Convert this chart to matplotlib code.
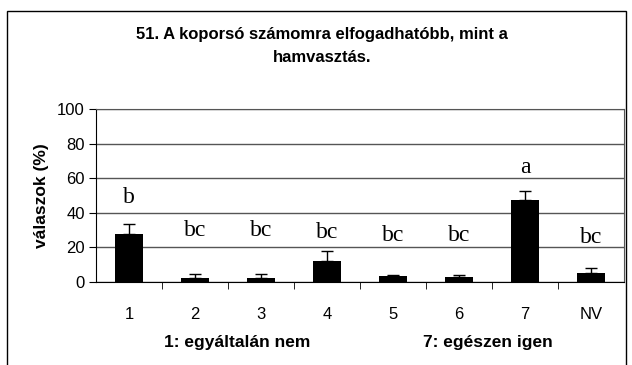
import matplotlib.pyplot as plt
from matplotlib.patches import Rectangle
import numpy as np

categories = ['1', '2', '3', '4', '5', '6', '7', 'NV']
values = [27.5, 2.5, 2.5, 12.3, 3.3, 2.8, 47.4, 5.0]
errors = [6.0, 2.0, 2.0, 5.7, 0.8, 1.4, 5.4, 3.2]
letters = ['b', 'bc', 'bc', 'bc', 'bc', 'bc', 'a', 'bc']
letter_y = [49, 30, 30, 28.5, 27, 27, 66, 26]

fig = plt.figure(figsize=(6.32, 3.65), dpi=100)
ax = fig.add_axes([96 / 632, 1 - 282 / 365, (624 - 96) / 632, (282 - 109) / 365])

x = np.arange(len(categories))
ax.bar(x, values, width=0.42, color='black', zorder=3)
ax.errorbar(x, values, yerr=[np.zeros(len(errors)), errors], fmt='none',
            ecolor='black', elinewidth=1, capsize=4, capthick=1, zorder=4)
for xi, t, ty in zip(x, letters, letter_y):
    ax.text(xi, ty, t, ha='center', va='center', fontsize=17,
            family='Liberation Serif')

ax.set_xlim(-0.5, len(categories) - 0.5)
ax.set_ylim(0, 100)
ax.set_yticks([0, 20, 40, 60, 80, 100])
ax.yaxis.grid(True, color='#555555', linewidth=1, zorder=0)
ax.set_xticks(x)
ax.set_xticklabels(categories, family='Liberation Sans', fontsize=12)
ax.set_xticks(np.arange(0.5, len(categories) - 0.5), minor=True)
ax.tick_params(axis='x', which='major', length=0, pad=18)
ax.tick_params(axis='x', which='minor', length=5, direction='out')
ax.tick_params(axis='y', length=5, direction='out', pad=3)
for lbl in ax.get_yticklabels():
    lbl.set_family('Liberation Sans')
    lbl.set_fontsize(12)
ax.spines['top'].set_color('#555555')
ax.spines['right'].set_color('#555555')
ax.set_ylabel('válaszok (%)', family='Liberation Sans', fontweight='bold',
              fontsize=12.5, labelpad=6)

fig.text(322 / 632, 1 - 35 / 365, '51. A koporsó számomra elfogadhatóbb, mint a',
         ha='center', va='center', fontsize=12, fontweight='bold',
         family='Liberation Sans')
fig.text(322 / 632, 1 - 57 / 365, 'hamvasztás.', ha='center', va='center',
         fontsize=12, fontweight='bold', family='Liberation Sans')
fig.text(237 / 632, 1 - 342 / 365, '1: egyáltalán nem', ha='center', va='center',
         fontsize=12.5, fontweight='bold', family='Liberation Sans')
fig.text(488 / 632, 1 - 342 / 365, '7: egészen igen', ha='center', va='center',
         fontsize=12.5, fontweight='bold', family='Liberation Sans')

# outer chart frame
fig.patches.append(Rectangle((7 / 632, -0.05), (626 - 7) / 632, 1.05 - 11 / 365,
                             transform=fig.transFigure, fill=False,
                             edgecolor='black', linewidth=1))

fig.savefig('out.png', dpi=100)
